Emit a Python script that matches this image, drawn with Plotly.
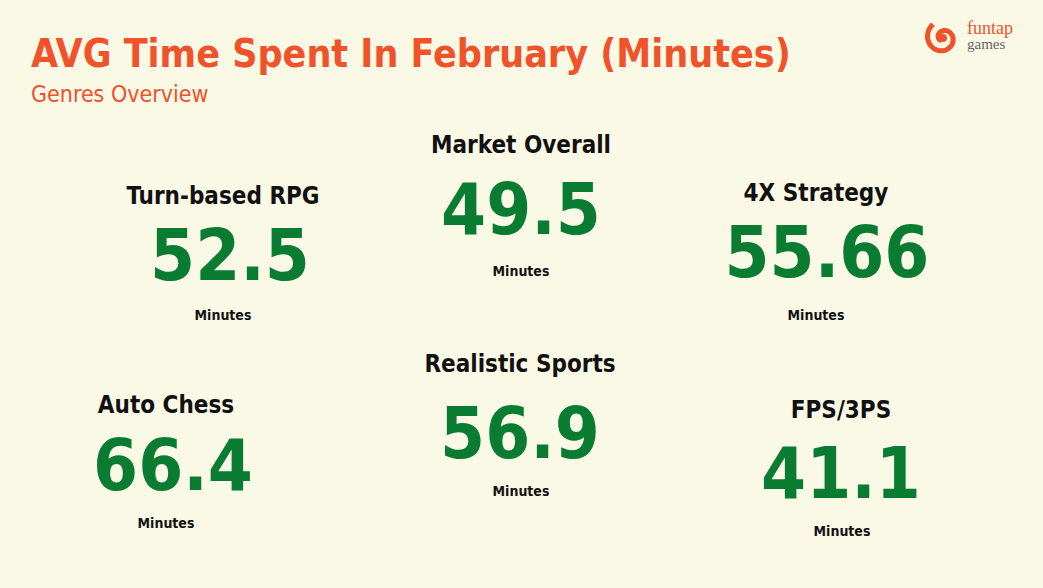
import math
import plotly.graph_objects as go

# KPI data
genres = ["Market Overall", "Turn-based RPG", "4X Strategy",
          "Realistic Sports", "Auto Chess", "FPS/3PS"]
avg_minutes = [49.5, 52.5, 55.66, 56.9, 66.4, 41.1]
unit_label = "Minutes"

title_text = "AVG Time Spent In February (Minutes)"
subtitle_text = "Genres Overview"

# card layout (pixel coords on a 1043x588 canvas): label x/y, value x/y, unit x/y
card_pos = [
    (521, 147, 521, 216, 521, 272),
    (223, 198, 230, 262, 223, 316),
    (816, 195, 827, 259, 816, 316),
    (520, 366, 520, 440, 521, 492),
    (166, 407, 173, 472, 166, 524),
    (841, 412, 841, 480, 842, 532),
]

BG = "#FAF9E6"
ORANGE = "#F0522A"
GREEN = "#0A7C32"
FONT = "DejaVu Sans, sans-serif"


def narrow(s, bold=True):
    s = f"<span style='font-stretch:condensed'>{s}</span>"
    return f"<b>{s}</b>" if bold else s


fig = go.Figure()

# value numbers as a text trace
fig.add_trace(go.Scatter(
    x=[p[2] for p in card_pos],
    y=[p[3] for p in card_pos],
    mode="text",
    text=[narrow(f"{v:g}") for v in avg_minutes],
    textposition="middle center",
    textfont=dict(size=72, color=GREEN, family=FONT),
    hoverinfo="skip",
    showlegend=False,
))

# genre labels
fig.add_trace(go.Scatter(
    x=[p[0] for p in card_pos],
    y=[p[1] for p in card_pos],
    mode="text",
    text=[narrow(g) for g in genres],
    textposition="middle center",
    textfont=dict(size=24, color="#111111", family=FONT),
    hoverinfo="skip",
    showlegend=False,
))

# unit labels
fig.add_trace(go.Scatter(
    x=[p[4] for p in card_pos],
    y=[p[5] for p in card_pos],
    mode="text",
    text=[narrow(unit_label)] * len(card_pos),
    textposition="middle center",
    textfont=dict(size=14, color="#111111", family=FONT),
    hoverinfo="skip",
    showlegend=False,
))

# title + subtitle
fig.add_annotation(x=29, y=53, xref="x", yref="y", text=narrow(title_text),
                   showarrow=False, xanchor="left", yanchor="middle",
                   font=dict(size=39, color=ORANGE, family=FONT))
fig.add_annotation(x=29, y=94, xref="x", yref="y", text=narrow(subtitle_text, bold=False),
                   showarrow=False, xanchor="left", yanchor="middle",
                   font=dict(size=23, color=ORANGE, family=FONT))

# funtap logo: thick spiral
cx, cy = 943, 38
pts = []
for i in range(0, 121):
    t = i / 120 * 2.6 * math.pi
    r = 3 + 14 * t / (2.6 * math.pi)
    pts.append((cx + r * math.cos(t + 2.2), cy + r * math.sin(t + 2.2)))
path = "M " + " L ".join(f"{x:.2f},{y:.2f}" for x, y in pts)
fig.add_shape(type="path", path=path, xref="x", yref="y",
              line=dict(color=ORANGE, width=5), layer="above")
fig.add_shape(type="circle", x0=cx - 4, y0=cy - 4, x1=cx + 4, y1=cy + 4,
              fillcolor=ORANGE, line=dict(width=0), layer="above")
fig.add_annotation(x=965, y=28, xref="x", yref="y", text="funtap",
                   showarrow=False, xanchor="left", yanchor="middle",
                   font=dict(size=18, color=ORANGE, family="Liberation Serif, serif"))
fig.add_annotation(x=965, y=44, xref="x", yref="y", text="games",
                   showarrow=False, xanchor="left", yanchor="middle",
                   font=dict(size=15, color="#666666", family="Liberation Serif, serif"))

fig.update_layout(
    width=1043, height=588,
    margin=dict(l=0, r=0, t=0, b=0),
    paper_bgcolor=BG, plot_bgcolor=BG,
    xaxis=dict(range=[0, 1043], visible=False, fixedrange=True),
    yaxis=dict(range=[588, 0], visible=False, fixedrange=True),
    showlegend=False,
)

fig.write_html("out.html", config={"displayModeBar": False},
               post_script="document.body.style.margin='0';")
